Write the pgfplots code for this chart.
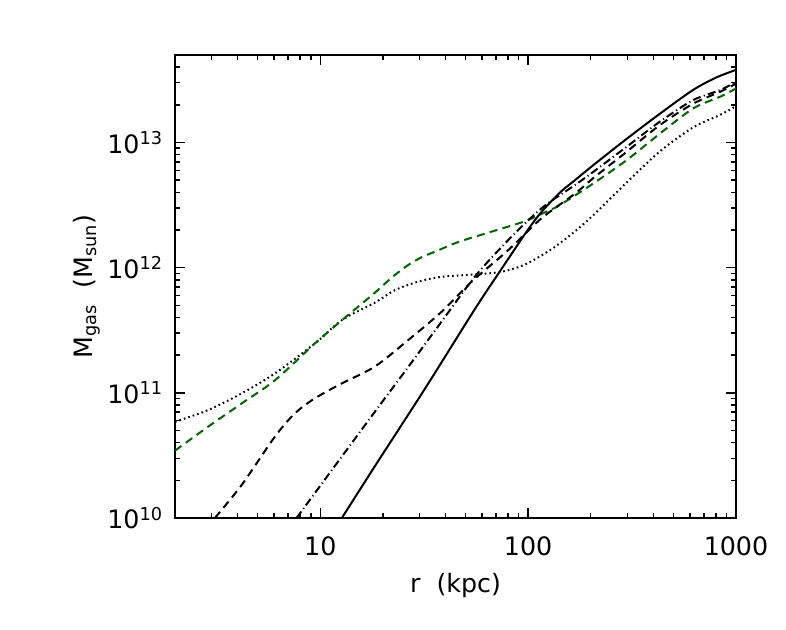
\documentclass[border=0pt]{standalone}
\usepackage{fontspec}
\setmainfont{DejaVu Sans}
\usepackage{pgfplots}
\pgfplotsset{compat=1.18}
\definecolor{dkgreen}{RGB}{0,100,0}

\begin{document}
\begin{tikzpicture}
\useasboundingbox (0,0) rectangle (589.5pt,471.75pt);
\begin{axis}[
    at={(131.25pt,83.25pt)}, anchor=south west,
    scale only axis,
    width=420.75pt, height=347.25pt,
    xmode=log, ymode=log,
    xmin=2, xmax=1000, ymin=1e10, ymax=5e13,
    xtick={10,100,1000},
    xticklabels={10,100,1000},
    minor xtick={2,3,4,5,6,7,8,9,20,30,40,50,60,70,80,90,200,300,400,500,600,700,800,900},
    ytick={1e10,1e11,1e12,1e13},
    yticklabels={10\textsuperscript{10},10\textsuperscript{11},10\textsuperscript{12},10\textsuperscript{13}},
    minor ytick={2e10,3e10,4e10,5e10,6e10,7e10,8e10,9e10,2e11,3e11,4e11,5e11,6e11,7e11,8e11,9e11,2e12,3e12,4e12,5e12,6e12,7e12,8e12,9e12,2e13,3e13,4e13},
    xtick pos=both, ytick pos=both,
    tick align=inside,
    major tick length=7.5pt, minor tick length=3.75pt,
    every tick/.style={black, line width=1.1pt},
    axis line style={line width=1.5pt},
    tick label style={font=\fontsize{19}{22}\selectfont},
    xticklabel style={inner sep=0pt, anchor=north, yshift=-14pt},
    yticklabel style={inner sep=0pt, anchor=east, xshift=-9pt},
    xlabel={r~~(kpc)},
    ylabel={M\textsubscript{gas}~~(M\textsubscript{sun})},
    label style={font=\fontsize{19}{22}\selectfont},
    xlabel style={at={(axis description cs:0.5,-0.145)}, anchor=center},
    ylabel style={at={(axis description cs:-0.157,0.5)}, anchor=center},
    clip=true,
]
% dotted
\addplot[black, line width=1.5pt, dash pattern=on 1.2pt off 2.3pt, smooth] coordinates {
    (2.0,5.87e10) (2.89,7.29e10) (4.19,9.91e10) (6.05,1.43e11) (9.42,2.48e11)
    (12.7,3.81e11) (18.3,5.25e11) (22.9,6.62e11) (29.6,7.73e11) (38.4,8.45e11)
    (55.5,8.83e11) (74.5,9.27e11) (96.6,1.06e12) (130,1.41e12) (168,1.95e12)
    (206,2.63e12) (298,4.79e12) (431,8.5e12) (622,1.32e13) (838,1.66e13) (1000,1.95e13)
};
% green dashed
\addplot[dkgreen, line width=1.5pt, dash pattern=on 6pt off 4pt, smooth] coordinates {
    (2.0,3.45e10) (2.89,5.37e10) (4.19,8.24e10) (6.05,1.26e11) (9.42,2.48e11)
    (12.7,3.80e11) (18.3,6.3e11) (22,8.3e11) (26.5,1.05e12) (31,1.22e12) (36,1.35e12)
    (46,1.6e12) (66.7,1.94e12) (96.6,2.35e12) (125,2.85e12) (142,3.16e12) (206,4.71e12)
    (298,7.23e12) (431,1.18e13) (622,1.87e13) (838,2.32e13) (1000,2.70e13)
};
% black dashed
\addplot[black, line width=1.5pt, dash pattern=on 6pt off 4pt, smooth] coordinates {
    (3.11,1e10) (4.19,1.84e10) (6.05,4.47e10) (7.55,6.85e10) (9.42,9.04e10)
    (12.7,1.19e11) (18.3,1.62e11) (26.5,2.64e11) (38.4,4.45e11) (53.5,7.73e11)
    (80.2,1.38e12) (116,2.48e12) (168,3.9e12) (206,5.2e12) (298,8.43e12)
    (431,1.38e13) (622,2.04e13) (838,2.54e13) (1000,2.95e13)
};
% dash-dot
\addplot[black, line width=1.5pt, dash pattern=on 6pt off 2.5pt on 0.8pt off 2.5pt, smooth] coordinates {
    (7.69,1e10) (10.5,2.02e10) (18.3,7.05e10) (26.5,1.61e11) (38.4,3.72e11)
    (55.5,8.5e11) (80.2,1.66e12) (116,2.98e12) (168,4.57e12) (206,5.83e12)
    (298,9.25e12) (431,1.47e13) (622,2.18e13) (838,2.62e13) (1000,3.05e13)
};
% solid
\addplot[black, line width=1.5pt, smooth] coordinates {
    (12.7,1e10) (18.3,2.59e10) (31.9,1.08e11) (55.5,4.68e11) (73.1,9.33e11)
    (96.6,1.86e12) (112,2.6e12) (125,3.2e12) (145,4.1e12) (168,5.0e12) (206,6.6e12) (298,1.07e13)
    (431,1.70e13) (622,2.63e13) (805,3.31e13) (1000,3.80e13)
};
\end{axis}
\end{tikzpicture}
\end{document}
